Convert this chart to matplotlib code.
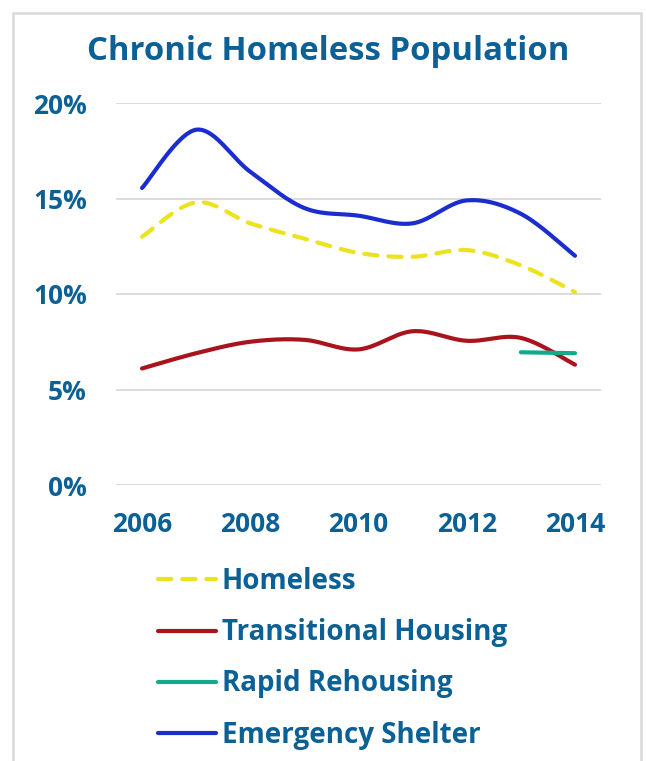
import numpy as np
import matplotlib
matplotlib.use("Agg")
import matplotlib.pyplot as plt
from matplotlib.patches import Rectangle

# Share of each population that is chronically homeless (%)
years = [2006, 2007, 2008, 2009, 2010, 2011, 2012, 2013, 2014]
homeless = [13.0, 14.8, 13.7, 12.9, 12.15, 11.95, 12.3, 11.5, 10.1]
transitional = [6.1, 6.9, 7.5, 7.6, 7.1, 8.05, 7.55, 7.7, 6.3]
rapid_years = [2013, 2014]
rapid = [6.95, 6.9]
emergency = [15.55, 18.6, 16.4, 14.5, 14.1, 13.7, 14.9, 14.2, 12.0]

y_ticks = [0, 5, 10, 15, 20]
x_ticks = [2006, 2008, 2010, 2012, 2014]

TEXT = "#0b6096"
FONT = "Open Sans"


def smooth(xs, ys, n=40):
    """Cubic Bezier smoothing through every point (Catmull-Rom style)."""
    p = np.column_stack([xs, ys]).astype(float)
    if len(p) < 3:
        return p[:, 0], p[:, 1]
    ext = np.vstack([p[0], p, p[-1]])
    out = []
    t = np.linspace(0, 1, n)[:, None]
    for i in range(1, len(ext) - 2):
        p0, p1, p2, p3 = ext[i - 1], ext[i], ext[i + 1], ext[i + 2]
        b1 = p1 + (p2 - p0) / 6.0
        b2 = p2 - (p3 - p1) / 6.0
        seg = ((1 - t) ** 3) * p1 + 3 * ((1 - t) ** 2) * t * b1 \
            + 3 * (1 - t) * t ** 2 * b2 + t ** 3 * p2
        out.append(seg if i == 1 else seg[1:])
    c = np.vstack(out)
    return c[:, 0], c[:, 1]


W, H = 646, 761
fig = plt.figure(figsize=(W / 100, H / 100), dpi=100)
fig.patch.set_facecolor("white")

# light frame around the chart (open at the bottom)
fig.patches.append(Rectangle((13 / W, -0.05), (641 - 13) / W, (H - 13) / H + 0.05,
                             transform=fig.transFigure, fill=False,
                             edgecolor="#d9d9d9", linewidth=1.8))

ax = fig.add_axes([116 / W, 1 - 485 / H, (601 - 116) / W, (485 - 103) / H])

lw = 3.0
hx, hy = smooth(years, homeless)
ax.plot(hx, hy, color="#ece31e", lw=lw, linestyle=(0, (3.2, 2.6)),
        dash_capstyle="round", solid_capstyle="round", label="Homeless", zorder=3)
tx, ty = smooth(years, transitional)
ax.plot(tx, ty, color="#a9141c", lw=lw, solid_capstyle="round",
        label="Transitional Housing", zorder=3)
rx, ry = smooth(rapid_years, rapid)
ax.plot(rx, ry, color="#13a98a", lw=lw, solid_capstyle="round",
        label="Rapid Rehousing", zorder=4)
ex, ey = smooth(years, emergency)
ax.plot(ex, ey, color="#1b2dcf", lw=lw, solid_capstyle="round",
        label="Emergency Shelter", zorder=3)

ax.set_xlim(2006 - 26 / 54.1, 2014 + 26 / 54.1)
ax.set_ylim(0, 20)
ax.set_yticks(y_ticks)
ax.set_yticklabels([f"{v}%" for v in y_ticks])
ax.set_xticks(x_ticks)
ax.set_xticklabels([str(v) for v in x_ticks])
ax.grid(axis="y", color="#d9d9d9", linewidth=1.3)
ax.set_axisbelow(True)
for s in ax.spines.values():
    s.set_visible(False)
ax.tick_params(length=0, colors=TEXT)
ax.tick_params(axis="y", pad=21)
ax.tick_params(axis="x", pad=19)
for lab in ax.get_xticklabels() + ax.get_yticklabels():
    lab.set_fontfamily(FONT)
    lab.set_fontweight("bold")
    lab.set_fontsize(19)

fig.text(328 / W, 1 - 52 / H, "Chronic Homeless Population", ha="center", va="center",
         color=TEXT, fontfamily=FONT, fontweight="bold", fontsize=23.7)

leg = fig.legend(loc="upper left", bbox_to_anchor=(158 / W, 1 - 567 / H),
                 frameon=False, handlelength=2.1, handletextpad=0.2,
                 labelspacing=0.8, borderpad=0, borderaxespad=0,
                 prop={"family": FONT, "weight": "bold", "size": 20})
for t in leg.get_texts():
    t.set_color(TEXT)

fig.savefig("out.png", dpi=100, facecolor="white")
